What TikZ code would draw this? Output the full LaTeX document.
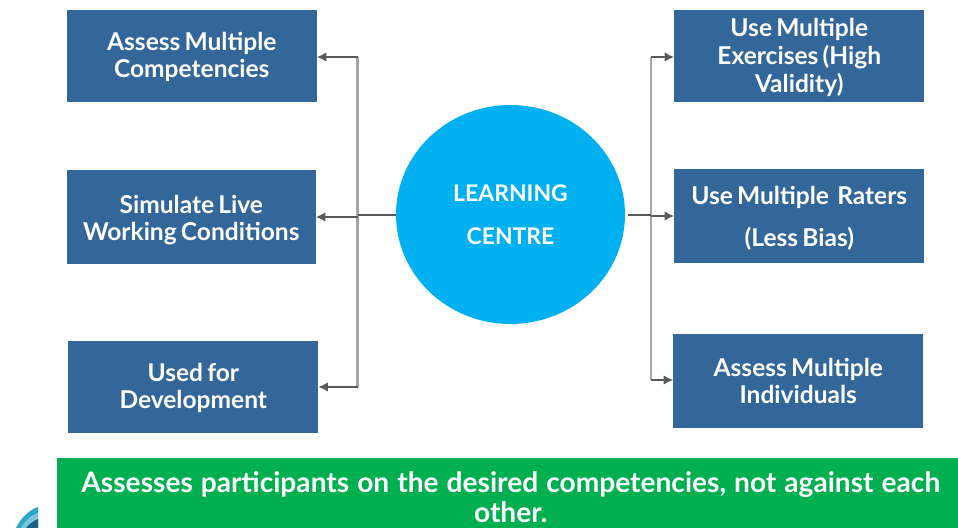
\documentclass[tikz,border=0pt]{standalone}
\usepackage{fontspec}
\setmainfont{Lato}
\usetikzlibrary{arrows.meta,shapes.geometric}
\definecolor{boxblue}{HTML}{336699}
\definecolor{circblue}{HTML}{00B0F0}
\definecolor{bargreen}{HTML}{00AF50}
\definecolor{linegray}{HTML}{A6A6A6}
\definecolor{linedark}{HTML}{595959}
\definecolor{logoa}{HTML}{2BA6C4}
\definecolor{logob}{HTML}{79C6DC}
\definecolor{logoc}{HTML}{1C5F86}
\newcommand{\boxtext}[3]{\parbox{185pt}{\vspace*{#2}\centering\spaceskip=.17em\baselineskip=#1 #3\par}}
\tikzset{
  bluebox/.style={fill=boxblue,draw=none,text=white,font=\fontsize{18.4pt}{20.3pt}\selectfont\bfseries,align=center,inner sep=0pt,anchor=north west},
  trunk/.style={draw=linegray,line width=1.7pt},
  feed/.style={draw=linedark,line width=1.7pt},
  branch/.style={draw=linedark,line width=0.9pt,-{Latex[length=7pt,width=7pt]}},
}
\begin{document}
\begin{tikzpicture}[x=0.75pt,y=-0.75pt]
\useasboundingbox (0,0) rectangle (958,528);
\node[bluebox,minimum width=250*0.75pt,minimum height=92*0.75pt] (b1) at (66.5,10) {\boxtext{20.3pt}{1.5pt}{Assess Multiple\\Competencies}};
\node[bluebox,minimum width=249*0.75pt,minimum height=94*0.75pt] (b2) at (66.5,170) {\boxtext{20.3pt}{4.5pt}{Simulate\ Live\\Working Conditions}};
\node[bluebox,minimum width=250*0.75pt,minimum height=92*0.75pt] (b3) at (68,341) {\boxtext{20.3pt}{1.5pt}{Used for\\Development}};
\node[bluebox,minimum width=250*0.75pt,minimum height=92*0.75pt] (b4) at (674,10) {\boxtext{20.8pt}{1.5pt}{Use Multiple\\Exercises (High\\Validity)}};
\node[bluebox,minimum width=250*0.75pt,minimum height=94*0.75pt] (b5) at (674,169) {\boxtext{31.5pt}{3pt}{Use Multiple\ \ Raters\\(Less Bias)}};
\node[bluebox,minimum width=250*0.75pt,minimum height=94*0.75pt] (b6) at (673,334) {\boxtext{20.3pt}{0pt}{Assess Multiple\\Individuals}};
\node[ellipse,fill=circblue,draw=none,minimum width=229*0.75pt,minimum height=219*0.75pt,inner sep=0pt,text=white,align=center,font=\fontsize{17.2pt}{32pt}\selectfont\bfseries] (c) at (510.5,214.5) {LEARNING\\CENTRE};
\node[fill=bargreen,draw=none,text=white,anchor=north west,minimum width=901*0.75pt,minimum height=70*0.75pt,inner sep=0pt,font=\fontsize{21.1pt}{22.5pt}\selectfont\bfseries] (g) at (57,458) {\parbox{670pt}{\vspace*{6pt}\centering\spaceskip=6pt\baselineskip=22.5pt \hspace*{4.5pt}Assesses participants on the desired competencies, not against each\\\hspace*{4.5pt}other.\par}};
% left connectors
\coordinate (lt) at (357.5,57);
\coordinate (lm) at (357.5,217);
\coordinate (lb) at (357.5,387);
\coordinate (lf) at (357.5,215);
\draw[trunk] (lt) -- (lb);
\draw[branch] (lt) -- (b1.east |- lt);
\draw[branch] (lm) -- (b2.east |- lm);
\draw[branch] (lb) -- (b3.east |- lb);
\draw[feed] (c.west |- lf) -- (lf);
% right connectors
\coordinate (rt) at (651,57);
\coordinate (rm) at (651,216);
\coordinate (rb) at (651,380);
\coordinate (rf) at (651,215);
\coordinate (rs) at (628,215);
\draw[trunk] (rt) -- (rb);
\draw[branch] (rt) -- (b4.west |- rt);
\draw[branch] (rm) -- (b5.west |- rm);
\draw[branch] (rb) -- (b6.west |- rb);
\draw[feed] (rs) -- (rf);
% logo fragment
\fill[logoa] (38,507) .. controls (29,510) and (21,518) .. (16,528) -- (38,528) -- cycle;
\fill[logob] (38,513) .. controls (31,515) and (25,521) .. (21,528) -- (38,528) -- cycle;
\fill[logoc] (38,519) .. controls (33,521) and (29,524) .. (26,528) -- (38,528) -- cycle;
\end{tikzpicture}
\end{document}
